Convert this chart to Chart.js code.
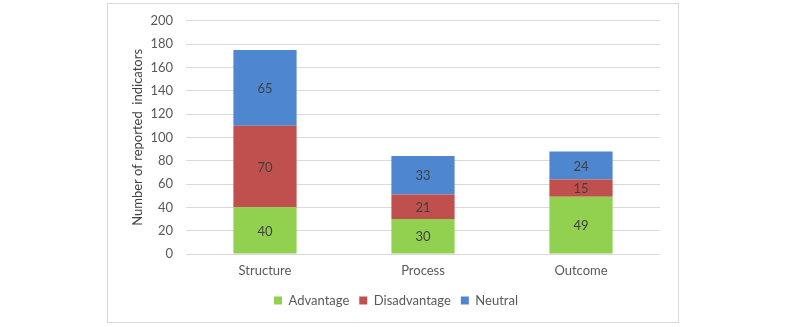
<!DOCTYPE html>
<html>
<head>
<meta charset="utf-8">
<script src="https://cdn.jsdelivr.net/npm/chart.js@4/dist/chart.umd.min.js"></script>
<style>
  body { margin: 0; background: #fff; }
  #wrap { width: 800px; height: 327px; }
</style>
</head>
<body>
<div id="wrap"><canvas id="myChart" width="800" height="327"></canvas></div>
<script>
// values
const categories = ['Structure', 'Process', 'Outcome'];
const advantage = [40, 30, 49];
const disadvantage = [70, 21, 15];
const neutral = [65, 33, 24];
const yTicks = { min: 0, max: 200, step: 20 };

// frame round the chart + numbers in the bars
const framePlugin = {
  id: 'frame',
  beforeDraw(chart) {
    const ctx = chart.ctx;
    ctx.save();
    ctx.strokeStyle = '#d9d9d9';
    ctx.lineWidth = 1;
    ctx.strokeRect(107.5, 3.5, 571, 319);
    ctx.restore();
  }
};

const barLabels = {
  id: 'barLabels',
  afterDatasetsDraw(chart) {
    const ctx = chart.ctx;
    ctx.save();
    ctx.font = '13px Lato';
    ctx.fillStyle = '#404040';
    ctx.textAlign = 'center';
    ctx.textBaseline = 'middle';
    chart.data.datasets.forEach((ds, i) => {
      chart.getDatasetMeta(i).data.forEach((bar, j) => {
        ctx.fillText(ds.data[j], bar.x, (bar.y + bar.base) / 2 + 1);
      });
    });
    ctx.restore();
  }
};

const data = {
  labels: categories,
  datasets: [
    { label: 'Advantage', data: advantage, backgroundColor: '#92d050' },
    { label: 'Disadvantage', data: disadvantage, backgroundColor: '#c0504d' },
    { label: 'Neutral', data: neutral, backgroundColor: '#4f86d0' }
  ]
};

const config = {
  type: 'bar',
  data: data,
  options: {
    responsive: false,
    animation: false,
    barPercentage: 0.4,
    categoryPercentage: 1,
    layout: { padding: { left: 108, right: 116, top: 19, bottom: 10 } },
    plugins: {
      tooltip: { enabled: false },
      legend: {
        position: 'bottom',
        labels: {
          boxWidth: 8, boxHeight: 8, padding: 10,
          color: '#595959', font: { family: 'Lato', size: 13 }
        }
      }
    },
    scales: {
      x: {
        stacked: true,
        grid: { display: false, drawTicks: false },
        border: { display: false },
        ticks: { padding: 9, color: '#595959', font: { family: 'Lato', size: 13 } },
        afterFit(scale) { scale.height = 30; }
      },
      y: {
        stacked: true,
        min: yTicks.min, max: yTicks.max,
        grid: { color: '#d9d9d9', drawTicks: false },
        border: { display: false },
        ticks: { stepSize: yTicks.step, padding: 13, color: '#595959', font: { family: 'Lato', size: 13 } },
        title: {
          display: true, text: 'Number of reported  indicators',
          color: '#404040', font: { family: 'Lato', size: 13 },
          padding: { top: 22, bottom: 0 }
        },
        afterFit(scale) { scale.width = 78; }
      },
      // empty right axis, only there so the legend centres on the frame
      yPad: {
        position: 'right',
        grid: { display: false },
        border: { display: false },
        ticks: { display: false },
        afterFit(scale) { scale.width = 24; }
      }
    }
  },
  plugins: [framePlugin, barLabels]
};

new Chart(document.getElementById('myChart'), config);
</script>
</body>
</html>
